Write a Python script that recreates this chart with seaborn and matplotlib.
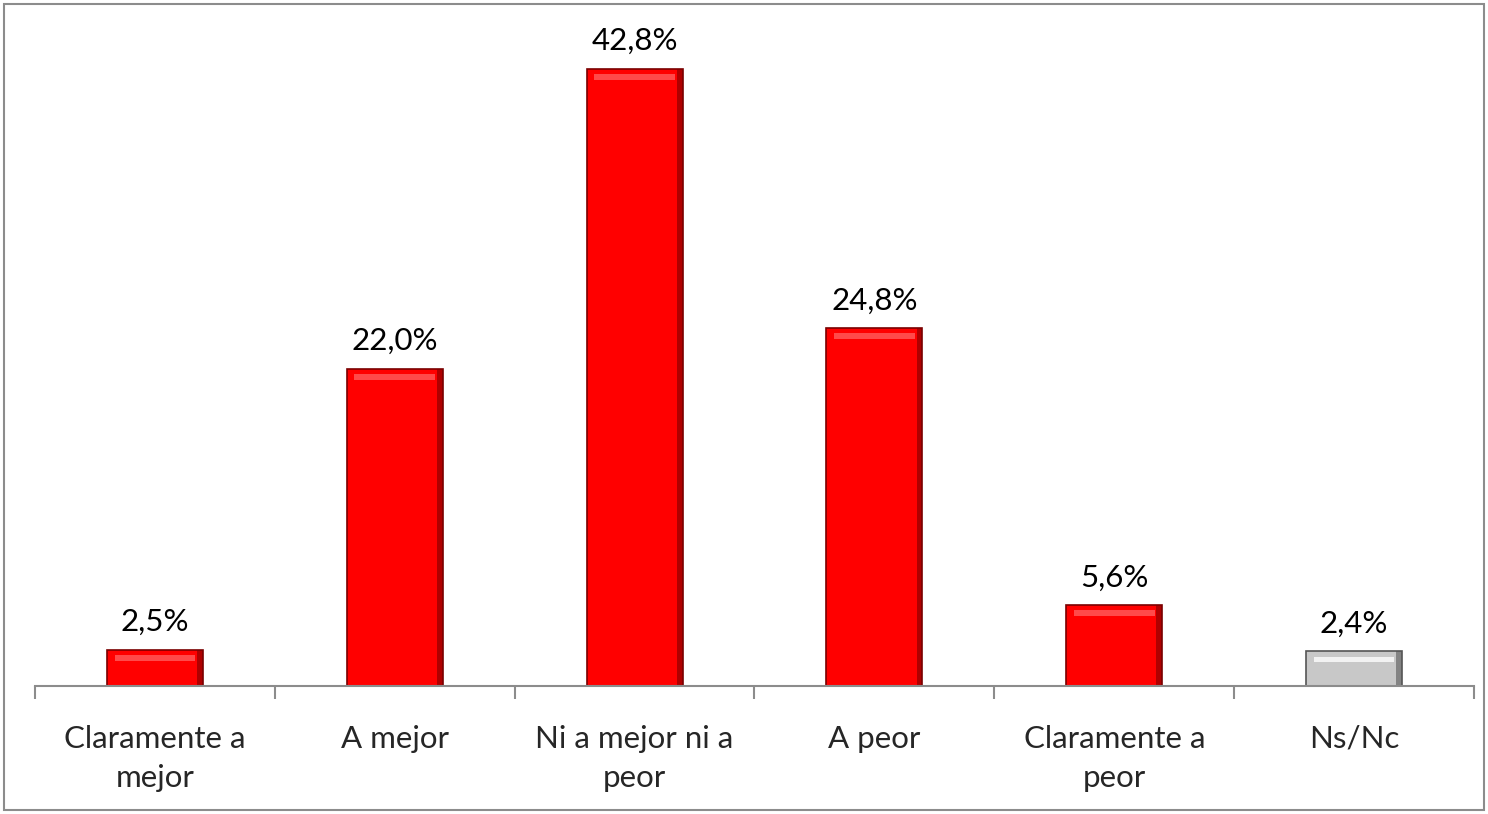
import matplotlib
matplotlib.use("Agg")
import matplotlib.pyplot as plt
import matplotlib.patches as mpatches
import seaborn as sns
import pandas as pd

# Data
categories = ["Claramente a\nmejor", "A mejor", "Ni a mejor ni a\npeor", "A peor",
              "Claramente a\npeor", "Ns/Nc"]
values = [2.5, 22.0, 42.8, 24.8, 5.6, 2.4]
labels = ["2,5%", "22,0%", "42,8%", "24,8%", "5,6%", "2,4%"]
colors = ["#FF0000", "#FF0000", "#FF0000", "#FF0000", "#FF0000", "#C8C8C8"]
edges = ["#7A0000", "#7A0000", "#7A0000", "#7A0000", "#7A0000", "#555555"]
highlights = ["#FF4A4A", "#FF4A4A", "#FF4A4A", "#FF4A4A", "#FF4A4A", "#F2F2F2"]

sns.set_theme(style="white")
plt.rcParams["font.family"] = ["Lato", "DejaVu Sans"]

df = pd.DataFrame({"cat": categories, "val": values})

fig = plt.figure(figsize=(14.88, 8.14), dpi=100)
ax = fig.add_axes([0.0235, 0.1572, 0.9671, 0.7973])

sns.barplot(data=df, x="cat", y="val", hue="cat", palette=colors, legend=False,
            width=0.4, ax=ax, saturation=1)

for bar, ec, hl, lab in zip(ax.patches, edges, highlights, labels):
    bar.set_edgecolor(ec)
    bar.set_linewidth(1.2)
    x0, y0 = bar.get_x(), bar.get_y()
    w, h = bar.get_width(), bar.get_height()
    # simple bevel: lighter strip near top, darker strip on right
    ax.add_patch(mpatches.Rectangle((x0 + w * 0.08, y0 + h - min(h * 0.3, 0.75)),
                                    w * 0.84, min(h * 0.15, 0.4), facecolor=hl,
                                    edgecolor="none", zorder=bar.get_zorder() + 0.1))
    ax.add_patch(mpatches.Rectangle((x0 + w * 0.94, y0), w * 0.06, h,
                                    facecolor=ec, edgecolor="none", alpha=0.6,
                                    zorder=bar.get_zorder() + 0.1))
    ax.annotate(lab, (x0 + w / 2, y0 + h), xytext=(0, 10), textcoords="offset points",
                ha="center", va="bottom", fontsize=22.5, color="black")

ax.set_xlim(-0.5, len(categories) - 0.5)
ax.set_ylim(0, 45)
ax.set_xlabel("")
ax.set_ylabel("")
ax.set_yticks([])
for s in ["top", "left", "right"]:
    ax.spines[s].set_visible(False)
ax.spines["bottom"].set_color("#8C8C8C")
ax.spines["bottom"].set_linewidth(1.5)

ax.set_xticks(range(len(categories)))
ax.set_xticklabels(categories, fontsize=22.5, linespacing=1.5)
ax.set_xticks([i - 0.5 for i in range(len(categories) + 1)], minor=True)
ax.tick_params(axis="x", which="major", length=0, pad=28)
ax.tick_params(axis="x", which="minor", length=9, width=1.5, color="#8C8C8C",
               direction="out", bottom=True)

fig.patches.append(mpatches.Rectangle((0.003, 0.005), 0.994, 0.99, transform=fig.transFigure,
                                      fill=False, edgecolor="#8C8C8C", linewidth=1.5))

fig.savefig("out.png", dpi=100)
